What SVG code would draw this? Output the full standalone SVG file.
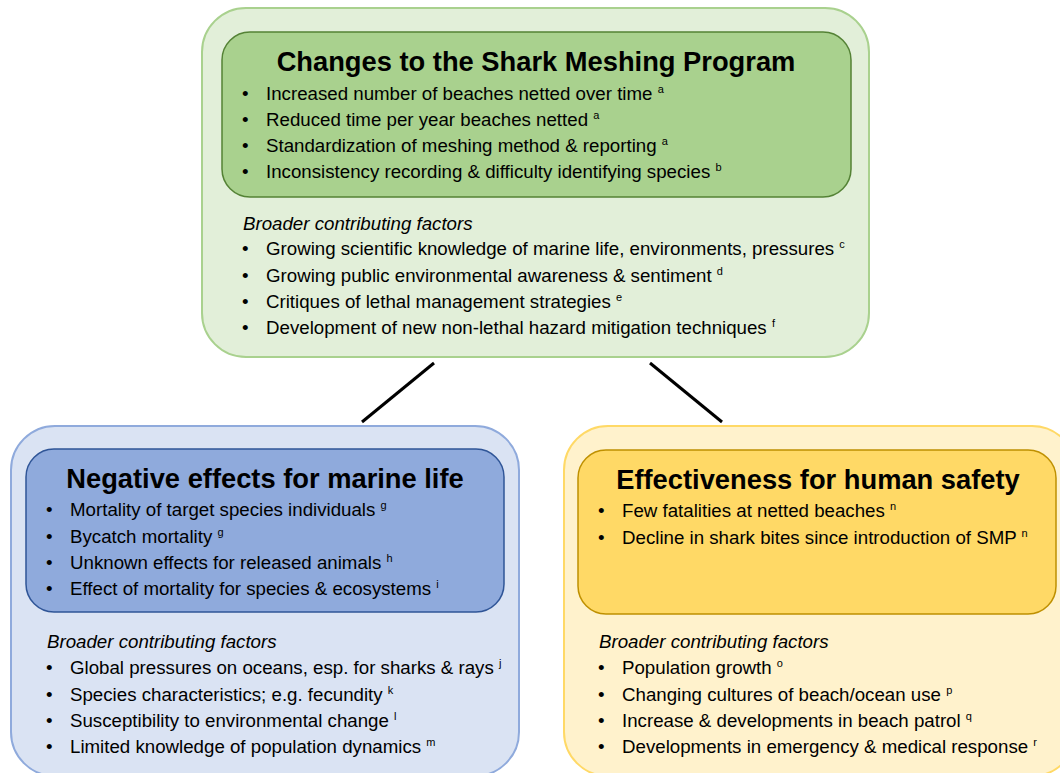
<svg xmlns="http://www.w3.org/2000/svg" width="1060" height="773" viewBox="0 0 1060 773">
<style>
text{font-family:"Liberation Sans",Arial,Helvetica,sans-serif;fill:#000}
.t{font-size:27.3px;font-weight:bold;text-anchor:middle}
.b{font-size:18.7px}
.i{font-size:18.7px;font-style:italic}
.s{font-size:11px}
.con{stroke:#000;stroke-width:3;fill:none}
</style>
<rect width="1060" height="773" fill="#fff"/>
<g id="connectors">
<line class="con" x1="434" y1="363" x2="362" y2="422"/>
<line class="con" x1="650" y1="363" x2="722" y2="422"/>
</g>
<g id="node-changes">
<rect x="202" y="8" width="667" height="349" rx="44" fill="#e2efd9" stroke="#a9d18e" stroke-width="2"/>
<rect x="222" y="32" width="629" height="165" rx="28" fill="#a9d18e" stroke="#548235" stroke-width="1.5"/>
<text class="t" x="536" y="71">Changes to the Shark Meshing Program</text>
<text class="b" x="242" y="100">•</text><text class="b" x="266" y="100">Increased number of beaches netted over time <tspan class="s" dy="-7">a</tspan></text>
<text class="b" x="242" y="126">•</text><text class="b" x="266" y="126">Reduced time per year beaches netted <tspan class="s" dy="-7">a</tspan></text>
<text class="b" x="242" y="152">•</text><text class="b" x="266" y="152">Standardization of meshing method &amp; reporting <tspan class="s" dy="-7">a</tspan></text>
<text class="b" x="242" y="178">•</text><text class="b" x="266" y="178">Inconsistency recording &amp; difficulty identifying species <tspan class="s" dy="-7">b</tspan></text>
<text class="i" x="243" y="230">Broader contributing factors</text>
<text class="b" x="242" y="255">•</text><text class="b" x="266" y="255">Growing scientific knowledge of marine life, environments, pressures <tspan class="s" dy="-7">c</tspan></text>
<text class="b" x="242" y="282">•</text><text class="b" x="266" y="282">Growing public environmental awareness &amp; sentiment <tspan class="s" dy="-7">d</tspan></text>
<text class="b" x="242" y="308">•</text><text class="b" x="266" y="308">Critiques of lethal management strategies <tspan class="s" dy="-7">e</tspan></text>
<text class="b" x="242" y="334">•</text><text class="b" x="266" y="334">Development of new non-lethal hazard mitigation techniques <tspan class="s" dy="-7">f</tspan></text>
</g>
<g id="node-marine">
<rect x="11" y="426" width="508" height="350" rx="44" fill="#dae3f3" stroke="#8faadc" stroke-width="2"/>
<rect x="26" y="449" width="478" height="163" rx="28" fill="#8faadc" stroke="#2f5597" stroke-width="1.5"/>
<text class="t" x="265" y="488">Negative effects for marine life</text>
<text class="b" x="46" y="516">•</text><text class="b" x="70" y="516">Mortality of target species individuals <tspan class="s" dy="-7">g</tspan></text>
<text class="b" x="46" y="543">•</text><text class="b" x="70" y="543">Bycatch mortality <tspan class="s" dy="-7">g</tspan></text>
<text class="b" x="46" y="569">•</text><text class="b" x="70" y="569">Unknown effects for released animals <tspan class="s" dy="-7">h</tspan></text>
<text class="b" x="46" y="595">•</text><text class="b" x="70" y="595">Effect of mortality for species &amp; ecosystems <tspan class="s" dy="-7">i</tspan></text>
<text class="i" x="47" y="648">Broader contributing factors</text>
<text class="b" x="46" y="674">•</text><text class="b" x="70" y="674">Global pressures on oceans, esp. for sharks &amp; rays <tspan class="s" dy="-7">j</tspan></text>
<text class="b" x="46" y="701">•</text><text class="b" x="70" y="701">Species characteristics; e.g. fecundity <tspan class="s" dy="-7">k</tspan></text>
<text class="b" x="46" y="727">•</text><text class="b" x="70" y="727">Susceptibility to environmental change <tspan class="s" dy="-7">l</tspan></text>
<text class="b" x="46" y="753">•</text><text class="b" x="70" y="753">Limited knowledge of population dynamics <tspan class="s" dy="-7">m</tspan></text>
</g>
<g id="node-safety">
<rect x="564" y="426" width="512" height="350" rx="44" fill="#fff2cc" stroke="#ffd966" stroke-width="2"/>
<rect x="578" y="450" width="478" height="164" rx="28" fill="#ffd966" stroke="#bf9000" stroke-width="1.5"/>
<text class="t" x="818" y="489">Effectiveness for human safety</text>
<text class="b" x="598" y="517">•</text><text class="b" x="622" y="517">Few fatalities at netted beaches <tspan class="s" dy="-7">n</tspan></text>
<text class="b" x="598" y="544">•</text><text class="b" x="622" y="544">Decline in shark bites since introduction of SMP <tspan class="s" dy="-7">n</tspan></text>
<text class="i" x="599" y="648">Broader contributing factors</text>
<text class="b" x="598" y="674">•</text><text class="b" x="622" y="674">Population growth <tspan class="s" dy="-7">o</tspan></text>
<text class="b" x="598" y="701">•</text><text class="b" x="622" y="701">Changing cultures of beach/ocean use <tspan class="s" dy="-7">p</tspan></text>
<text class="b" x="598" y="727">•</text><text class="b" x="622" y="727">Increase &amp; developments in beach patrol <tspan class="s" dy="-7">q</tspan></text>
<text class="b" x="598" y="753">•</text><text class="b" x="622" y="753">Developments in emergency &amp; medical response <tspan class="s" dy="-7">r</tspan></text>
</g>
</svg>
